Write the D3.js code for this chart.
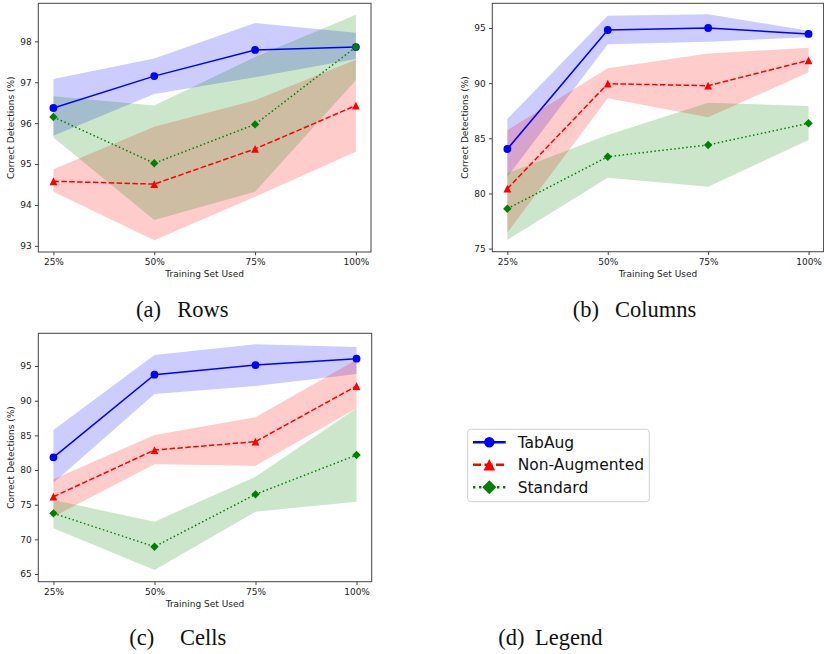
<!DOCTYPE html>
<html>
<head>
<meta charset="utf-8">
<script src="https://cdn.jsdelivr.net/npm/d3@7"></script>
<style>
  body { margin: 0; background: #fff; }
  svg { display: block; }
</style>
</head>
<body>
<div id="chart"></div>
<script>
// x categories
const trainingSizes = ["25%", "50%", "75%", "100%"];
const seriesNames = ["TabAug", "Non-Augmented", "Standard"];

// (a) Rows
const rowsTabAug = [96.37, 97.15, 97.79, 97.86];
const rowsTabAugLow = [95.69, 96.71, 97.12, 97.57];
const rowsTabAugHigh = [97.08, 97.58, 98.45, 98.21];
const rowsNonAug = [94.58, 94.51, 95.37, 96.43];
const rowsNonAugLow = [94.32, 93.14, 94.2, 95.3];
const rowsNonAugHigh = [94.87, 95.91, 96.56, 97.55];
const rowsStandard = [96.15, 95.02, 95.97, 97.86];
const rowsStandardLow = [95.65, 93.63, 94.32, 97.05];
const rowsStandardHigh = [96.66, 96.43, 97.62, 98.65];
const rowsTicks = [93, 94, 95, 96, 97, 98];

// (b) Columns
const colsTabAug = [84.03, 94.82, 95.0, 94.46];
const colsTabAugLow = [81.5, 93.52, 93.76, 94.16];
const colsTabAugHigh = [86.75, 96.1, 96.24, 94.76];
const colsNonAug = [80.43, 89.95, 89.77, 92.07];
const colsNonAugLow = [76.45, 88.63, 86.9, 90.98];
const colsNonAugHigh = [85.75, 91.35, 92.7, 93.2];
const colsStandard = [78.62, 83.33, 84.4, 86.36];
const colsStandardLow = [75.78, 81.43, 80.61, 84.85];
const colsStandardHigh = [81.83, 85.3, 88.23, 87.93];
const colsTicks = [75, 80, 85, 90, 95];

// (c) Cells
const cellsTabAug = [81.83, 93.75, 95.14, 96.06];
const cellsTabAugLow = [78.17, 90.96, 92.12, 93.85];
const cellsTabAugHigh = [85.77, 96.59, 98.13, 97.74];
const cellsNonAug = [76.15, 82.88, 84.09, 92.12];
const cellsNonAugLow = [73.27, 80.82, 80.63, 88.9];
const cellsNonAugHigh = [78.65, 85.05, 87.6, 95.9];
const cellsStandard = [73.75, 68.94, 76.49, 82.16];
const cellsStandardLow = [71.59, 65.58, 73.99, 75.43];
const cellsStandardHigh = [75.67, 72.55, 79.04, 88.9];
const cellsTicks = [65, 70, 75, 80, 85, 90, 95];

const colors = ["#0000ff", "#ff0000", "#008000"];
const dashes = [null, "5.5,2.4", "1.5,2.5"];
const markers = ["circle", "triangle", "diamond"];

const width = 824, height = 654;
const svg = d3.select("#chart").append("svg")
  .attr("width", width).attr("height", height);
svg.append("rect").attr("width", width).attr("height", height).attr("fill", "#fff");

function markerPath(type, s) {
  const p = d3.path();
  const h = s / 2;
  if (type === "circle") {
    p.arc(0, 0, h, 0, 2 * Math.PI);
  } else if (type === "triangle") {
    p.moveTo(0, -h); p.lineTo(-h, h); p.lineTo(h, h); p.closePath();
  } else {
    p.moveTo(0, -h); p.lineTo(h, 0); p.lineTo(0, h); p.lineTo(-h, 0); p.closePath();
  }
  return p.toString();
}

function buildSeries(mean, low, high) {
  return mean.map((v, i) => ({ size: trainingSizes[i], mean: v, low: low[i], high: high[i] }));
}

function drawPanel(box, yDomain, yTicks, series) {
  const g = svg.append("g").attr("transform", `translate(${box.left},${box.top})`);
  const x = d3.scalePoint().domain(trainingSizes).range([0, box.w]).padding(0.15);
  const y = d3.scaleLinear().domain(yDomain).range([box.h, 0]);

  const area = d3.area().x(d => x(d.size)).y0(d => y(d.low)).y1(d => y(d.high));
  const line = d3.line().x(d => x(d.size)).y(d => y(d.mean));

  series.forEach((s, k) => {
    g.append("path").attr("d", area(s)).attr("fill", colors[k]).attr("fill-opacity", 0.2);
  });
  series.forEach((s, k) => {
    g.append("path").attr("d", line(s)).attr("fill", "none")
      .attr("stroke", colors[k]).attr("stroke-width", 1.5)
      .attr("stroke-dasharray", dashes[k]);
    g.selectAll(null).data(s).enter().append("path")
      .attr("d", markerPath(markers[k], markers[k] === "diamond" ? 8.4 : 7.8))
      .attr("transform", d => `translate(${x(d.size)},${y(d.mean)})`)
      .attr("fill", colors[k]);
  });

  const xAxis = g.append("g").attr("transform", `translate(0,${box.h})`)
    .call(d3.axisBottom(x).tickSize(3.3).tickPadding(3.5));
  const yAxis = g.append("g")
    .call(d3.axisLeft(y).tickValues(yTicks).tickFormat(d3.format("d"))
      .tickSize(3.3).tickPadding(3.3));
  [xAxis, yAxis].forEach(a => {
    a.select(".domain").remove();
    a.selectAll("line").attr("stroke", "#444");
    a.selectAll("text").attr("fill", "#222")
      .style("font-family", "DejaVu Sans").style("font-size", "9px");
  });

  g.append("rect").attr("width", box.w).attr("height", box.h)
    .attr("fill", "none").attr("stroke", "#444").attr("stroke-width", 1);

  g.append("text").attr("x", box.w / 2).attr("y", box.h + 25.5)
    .attr("text-anchor", "middle").attr("fill", "#222")
    .style("font-family", "DejaVu Sans").style("font-size", "9px")
    .text("Training Set Used");
  g.append("text")
    .attr("transform", `translate(-24,${box.h / 2}) rotate(-90)`)
    .attr("text-anchor", "middle").attr("fill", "#222")
    .style("font-family", "DejaVu Sans").style("font-size", "9px")
    .text("Correct Detections (%)");
}

drawPanel({ left: 38.3, top: 3.3, w: 332.7, h: 248.7 }, [92.85, 98.93], rowsTicks, [
  buildSeries(rowsTabAug, rowsTabAugLow, rowsTabAugHigh),
  buildSeries(rowsNonAug, rowsNonAugLow, rowsNonAugHigh),
  buildSeries(rowsStandard, rowsStandardLow, rowsStandardHigh)
]);
drawPanel({ left: 492.3, top: 3.3, w: 331.3, h: 248.4 }, [74.72, 97.24], colsTicks, [
  buildSeries(colsTabAug, colsTabAugLow, colsTabAugHigh),
  buildSeries(colsNonAug, colsNonAugLow, colsNonAugHigh),
  buildSeries(colsStandard, colsStandardLow, colsStandardHigh)
]);
drawPanel({ left: 38.3, top: 333.3, w: 333.4, h: 248.4 }, [63.89, 99.72], cellsTicks, [
  buildSeries(cellsTabAug, cellsTabAugLow, cellsTabAugHigh),
  buildSeries(cellsNonAug, cellsNonAugLow, cellsNonAugHigh),
  buildSeries(cellsStandard, cellsStandardLow, cellsStandardHigh)
]);

// Sub-captions
const captions = [
  { tag: "(a)", name: "Rows", x1: 136, x2: 177.3, y: 317 },
  { tag: "(b)", name: "Columns", x1: 572.7, x2: 615, y: 317 },
  { tag: "(c)", name: "Cells", x1: 129.3, x2: 180, y: 644.5 },
  { tag: "(d)", name: "Legend", x1: 498.3, x2: 535, y: 644.5 }
];
captions.forEach(c => {
  const t = svg.append("text").attr("y", c.y).attr("fill", "#111")
    .style("font-family", "Liberation Serif").style("font-size", "22.5px");
  t.append("tspan").attr("x", c.x1).text(c.tag);
  t.append("tspan").attr("x", c.x2).text(c.name);
});

// Legend
const legend = svg.append("g").attr("transform", "translate(467.7,429.3)");
legend.append("rect").attr("width", 181.6).attr("height", 72.4).attr("rx", 3)
  .attr("fill", "#fff").attr("stroke", "#d0d0d0").attr("stroke-width", 1);
const ly = d3.scalePoint().domain(seriesNames).range([13, 58]);
const legendMarkerSize = [10.5, 11.5, 14];
seriesNames.forEach((name, k) => {
  const row = legend.append("g").attr("transform", `translate(0,${ly(name)})`);
  row.append("line").attr("x1", 5.3).attr("x2", 38).attr("stroke", colors[k])
    .attr("stroke-width", 2.4).attr("stroke-dasharray", k === 1 ? "8,3.5" : k === 2 ? "2.4,3.6" : null);
  row.append("path").attr("d", markerPath(markers[k], legendMarkerSize[k]))
    .attr("transform", "translate(21.6,0)").attr("fill", colors[k]);
  row.append("text").attr("x", 50).attr("dy", "0.35em").attr("fill", "#111")
    .style("font-family", "DejaVu Sans").style("font-size", "15.5px").text(name);
});
</script>
</body>
</html>
